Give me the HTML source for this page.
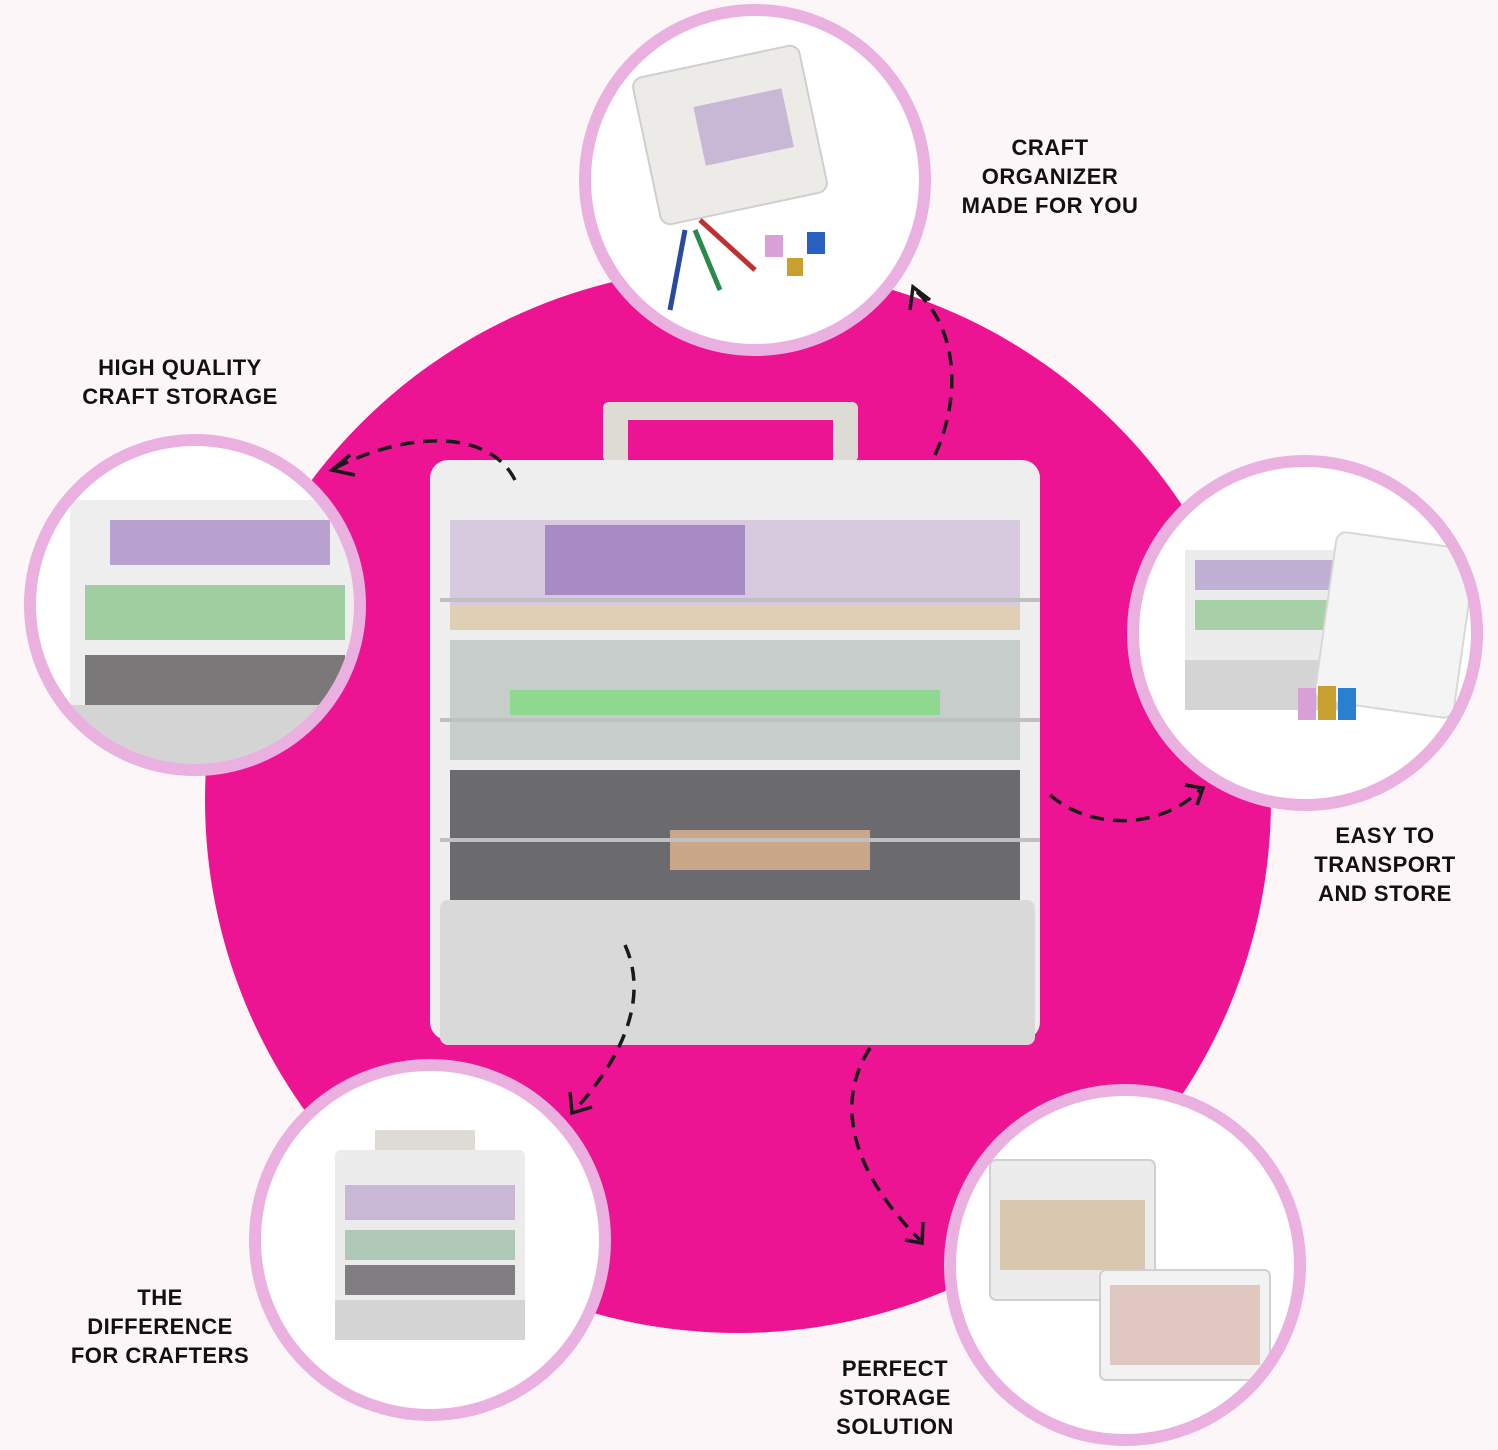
<!DOCTYPE html>
<html><head><meta charset="utf-8"><style>
html,body{margin:0;padding:0}
body{width:1498px;height:1450px;background:#fdf6f8;position:relative;overflow:hidden;font-family:"Liberation Sans",sans-serif}
.lbl{position:absolute;font-weight:bold;font-size:22px;line-height:29px;color:#111;text-align:center;letter-spacing:0.5px}
</style></head><body>
<svg width="1498" height="1450" style="position:absolute;left:0;top:0">
<defs>
<clipPath id="c1"><circle cx="755" cy="180" r="165"/></clipPath>
<clipPath id="c2"><circle cx="195" cy="605" r="160"/></clipPath>
<clipPath id="c3"><circle cx="1305" cy="633" r="167"/></clipPath>
<clipPath id="c4"><circle cx="430" cy="1240" r="170"/></clipPath>
<clipPath id="c5"><circle cx="1125" cy="1265" r="170"/></clipPath>
</defs>
<circle cx="738" cy="800" r="533" fill="#ec1493"/>
<g fill="#fff">
<circle cx="755" cy="180" r="170"/>
<circle cx="195" cy="605" r="165"/>
<circle cx="1305" cy="633" r="172"/>
<circle cx="430" cy="1240" r="175"/>
<circle cx="1125" cy="1265" r="175"/>
</g>
<g clip-path="url(#c1)">
<rect x="645" y="60" width="170" height="150" rx="10" transform="rotate(-12 730 135)" fill="#ecebe8" stroke="#cfcfcf" stroke-width="2"/>
<rect x="700" y="100" width="90" height="60" fill="#c9b7d6" transform="rotate(-12 730 135)"/>
<g stroke-width="5"><line x1="670" y1="310" x2="685" y2="230" stroke="#2a4aa0"/><line x1="720" y1="290" x2="695" y2="230" stroke="#2a8a4a"/><line x1="755" y1="270" x2="700" y2="220" stroke="#c03030"/></g>
<rect x="765" y="235" width="18" height="22" fill="#d9a0d8"/><rect x="807" y="232" width="18" height="22" fill="#2a60c0"/><rect x="787" y="258" width="16" height="18" fill="#c8a030"/>
</g>
<g clip-path="url(#c2)">
<rect x="70" y="500" width="290" height="260" fill="#eeeeee"/>
<rect x="110" y="520" width="220" height="45" fill="#b9a2d0"/>
<rect x="85" y="585" width="260" height="55" fill="#9fcfa0"/>
<rect x="85" y="655" width="260" height="50" fill="#7a7878"/>
<rect x="70" y="705" width="290" height="60" fill="#d4d4d4"/>
</g>
<g clip-path="url(#c3)">
<rect x="1185" y="550" width="170" height="160" fill="#ececec"/>
<rect x="1195" y="560" width="150" height="30" fill="#c0b0d4"/>
<rect x="1195" y="600" width="150" height="30" fill="#a8d0a8"/>
<rect x="1185" y="660" width="170" height="50" fill="#d4d4d4"/>
<rect x="1325" y="540" width="140" height="170" rx="10" fill="#f4f4f4" stroke="#d8d8d8" stroke-width="2" transform="rotate(8 1395 625)"/>
<rect x="1298" y="688" width="18" height="32" fill="#d9a0d8"/><rect x="1318" y="686" width="18" height="34" fill="#c8a030"/><rect x="1338" y="688" width="18" height="32" fill="#2a80d0"/>
</g>
<g clip-path="url(#c4)">
<rect x="375" y="1130" width="100" height="22" fill="#dedbd4"/>
<rect x="335" y="1150" width="190" height="190" rx="6" fill="#ececec"/>
<rect x="345" y="1185" width="170" height="35" fill="#c9b7d6"/>
<rect x="345" y="1230" width="170" height="30" fill="#b0c8b8"/>
<rect x="345" y="1265" width="170" height="30" fill="#807e80"/>
<rect x="335" y="1300" width="190" height="40" fill="#d4d4d4"/>
</g>
<g clip-path="url(#c5)">
<rect x="990" y="1160" width="165" height="140" rx="6" fill="#ececec" stroke="#d0d0d0" stroke-width="2"/>
<rect x="1000" y="1200" width="145" height="70" fill="#d8c8b0"/>
<rect x="1100" y="1270" width="170" height="110" rx="6" fill="#f2f2f2" stroke="#d0d0d0" stroke-width="2"/>
<rect x="1110" y="1285" width="150" height="80" fill="#e0c8c0"/>
</g>
<g fill="none" stroke="#eab0e0" stroke-width="12">
<circle cx="755" cy="180" r="170"/>
<circle cx="195" cy="605" r="165"/>
<circle cx="1305" cy="633" r="172"/>
<circle cx="430" cy="1240" r="175"/>
<circle cx="1125" cy="1265" r="175"/>
</g>
<!-- central product -->
<rect x="603" y="402" width="255" height="60" rx="6" fill="#dedbd4"/>
<rect x="628" y="420" width="205" height="42" fill="#ec1493"/>
<rect x="430" y="460" width="610" height="580" rx="18" fill="#eeeeee"/>
<rect x="450" y="520" width="570" height="110" fill="#d7cadf"/>
<rect x="545" y="525" width="200" height="70" fill="#a88bc4"/>
<rect x="450" y="605" width="570" height="25" fill="#e0cfb4"/>
<rect x="450" y="640" width="570" height="120" fill="#c6cdca"/>
<rect x="510" y="690" width="430" height="25" fill="#8fd890"/>
<rect x="450" y="770" width="570" height="130" fill="#6b6a6e"/>
<rect x="670" y="830" width="200" height="40" fill="#c8a888"/>
<rect x="440" y="900" width="595" height="145" rx="8" fill="#d9d9d9"/>
<g stroke="#c0c0c0" stroke-width="4"><line x1="440" y1="600" x2="1040" y2="600"/><line x1="440" y1="720" x2="1040" y2="720"/><line x1="440" y1="840" x2="1040" y2="840"/></g>
<g fill="none" stroke="#1a1a1a" stroke-width="3.5" stroke-dasharray="14 9">
<path d="M515 480 C490 430 410 430 335 468"/>
<path d="M935 455 C960 400 960 330 915 290"/>
<path d="M1050 795 C1090 830 1160 830 1200 790"/>
<path d="M625 945 C650 1000 620 1060 575 1110"/>
<path d="M870 1048 C830 1110 860 1180 920 1240"/>
</g>
<g fill="none" stroke="#1a1a1a" stroke-width="3.5">
<path d="M350 455 L332 470 L355 475"/>
<path d="M910 310 L913 287 L930 300"/>
<path d="M1185 785 L1203 788 L1197 805"/>
<path d="M570 1092 L572 1113 L592 1107"/>
<path d="M905 1240 L922 1243 L923 1222"/>
</g>
</svg>
<div class="lbl" style="left:930px;top:133px;width:240px">CRAFT<br>ORGANIZER<br>MADE FOR YOU</div>
<div class="lbl" style="left:50px;top:353px;width:260px">HIGH QUALITY<br>CRAFT STORAGE</div>
<div class="lbl" style="left:1285px;top:821px;width:200px">EASY TO<br>TRANSPORT<br>AND STORE</div>
<div class="lbl" style="left:50px;top:1283px;width:220px">THE<br>DIFFERENCE<br>FOR CRAFTERS</div>
<div class="lbl" style="left:790px;top:1354px;width:210px">PERFECT<br>STORAGE<br>SOLUTION</div>
</body></html>
